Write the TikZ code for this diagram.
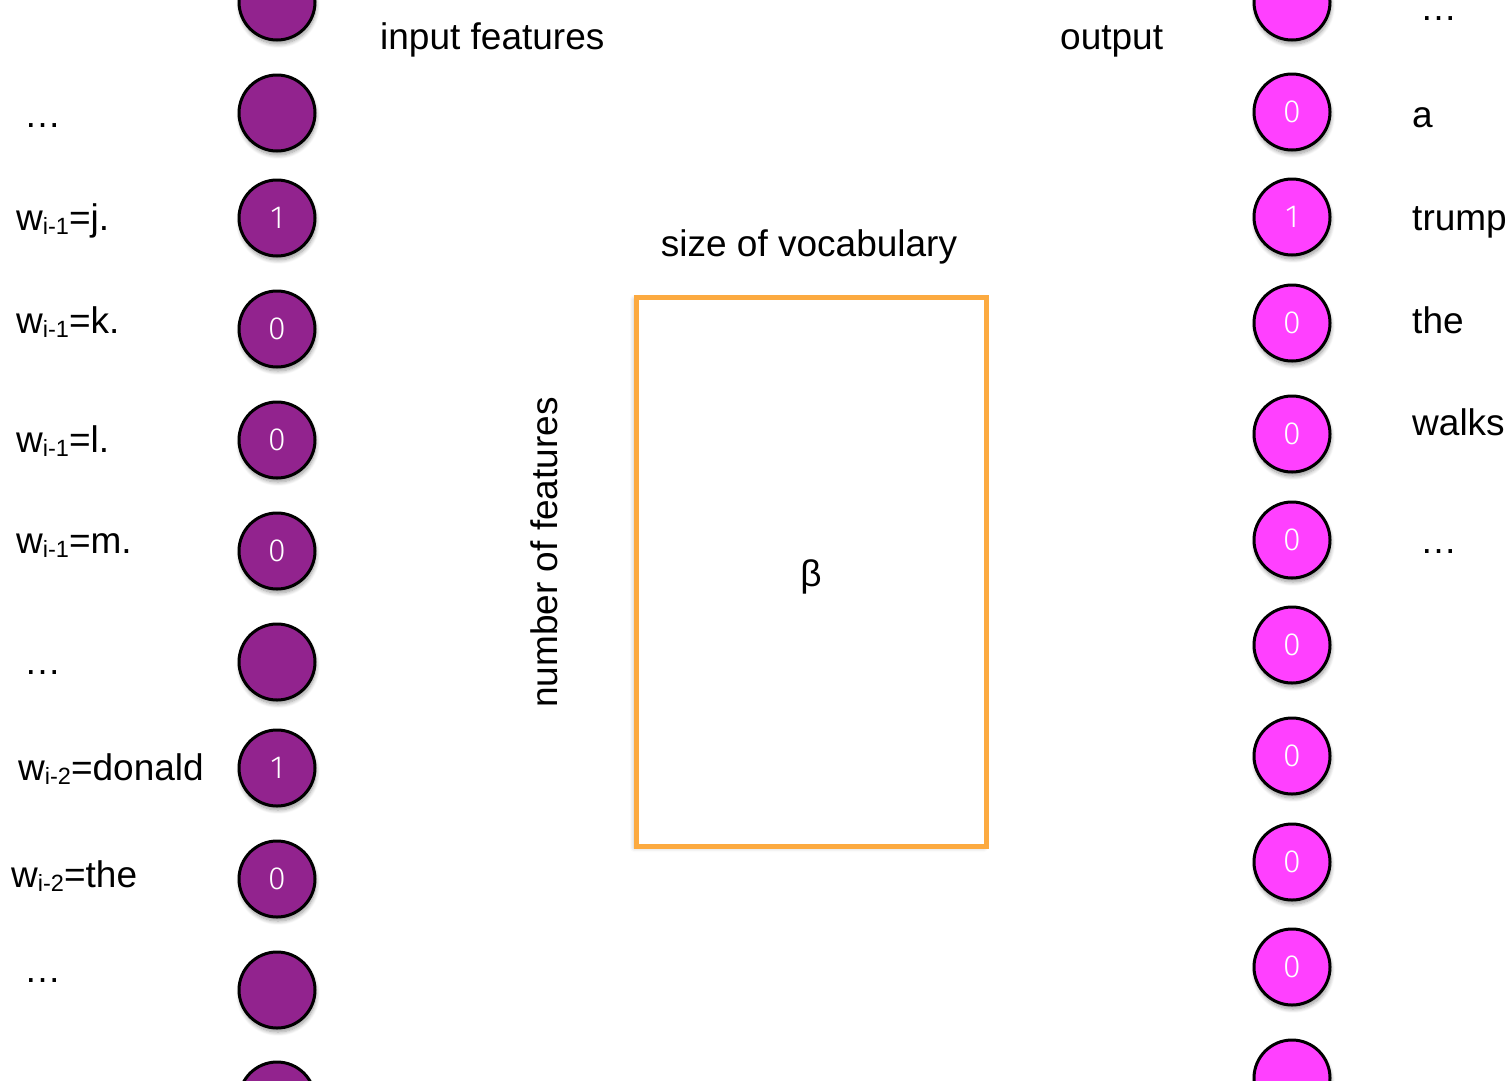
\documentclass[tikz,border=0pt]{standalone}
\usepackage{fontspec}
\setmainfont{Liberation Sans}
\newfontfamily\digitfont{Fira Sans Light}
\usetikzlibrary{shadows.blur}
\definecolor{inpurple}{RGB}{146,35,142}
\definecolor{outmagenta}{RGB}{255,64,255}
\definecolor{betaorange}{RGB}{252,170,64}
\newcommand{\wsub}[1]{w\raisebox{-4pt}{\fontsize{23.5}{24}\selectfont #1}}
\tikzset{
  unitshadow/.style={blur shadow={shadow xshift=1pt, shadow yshift=-4pt, shadow blur radius=4pt, shadow blur steps=8, shadow opacity=40}},
  bit/.style={circle, draw=black, line width=3pt, minimum size=76pt, inner sep=0pt,
    text=white, font=\digitfont\fontsize{32}{32}\selectfont, unitshadow},
  inbit/.style={bit, fill=inpurple},
  outbit/.style={bit, fill=outmagenta},
  lbl/.style={anchor=base west, inner sep=0pt, font=\fontsize{37}{40}\selectfont},
  weights/.style={draw=betaorange, line width=5pt, fill=white, minimum width=350pt, minimum height=549pt, inner sep=0pt,
    blur shadow={shadow xshift=-2pt, shadow yshift=-2pt, shadow blur radius=4pt, shadow opacity=25}}
}
\begin{document}
\begin{tikzpicture}[x=1pt,y=-1pt]
\useasboundingbox (0,0) rectangle (1512,1080);

% input layer
\node[inbit] (i0) at (277,2) {};
\node[inbit] (i1) at (277,113) {};
\node[inbit] (i2) at (277,218) {1};
\node[inbit] (i3) at (277,329) {0};
\node[inbit] (i4) at (277,440) {0};
\node[inbit] (i5) at (277,551) {0};
\node[inbit] (i6) at (277,662) {};
\node[inbit] (i7) at (277,768) {1};
\node[inbit] (i8) at (277,879) {0};
\node[inbit] (i9) at (277,990) {};
\node[inbit] (i10) at (277,1100) {};

% output layer
\node[outbit] (o0) at (1292,2) {};
\node[outbit] (o1) at (1292,112) {0};
\node[outbit] (o2) at (1292,217) {1};
\node[outbit] (o3) at (1292,323) {0};
\node[outbit] (o4) at (1292,434) {0};
\node[outbit] (o5) at (1292,540) {0};
\node[outbit] (o6) at (1292,645) {0};
\node[outbit] (o7) at (1292,756) {0};
\node[outbit] (o8) at (1292,862) {0};
\node[outbit] (o9) at (1292,967) {0};
\node[outbit] (o10) at (1292,1078) {};

% feature names
\node[lbl] (f1) at (24,127) {…};
\node[lbl] (f2) at (16,230) {\wsub{i-1}=j.};
\node[lbl] (f3) at (16,333) {\wsub{i-1}=k.};
\node[lbl] (f4) at (16,452) {\wsub{i-1}=l.};
\node[lbl] (f5) at (16,553) {\wsub{i-1}=m.};
\node[lbl] (f6) at (24,674) {…};
\node[lbl] (f7) at (18,780) {\wsub{i-2}=donald};
\node[lbl] (f8) at (11,887) {\wsub{i-2}=the};
\node[lbl] (f9) at (24,982) {…};

% vocabulary words
\node[lbl] (v0) at (1420,20) {…};
\node[lbl] (v1) at (1412,127) {a};
\node[lbl] (v2) at (1412,230) {trump};
\node[lbl] (v3) at (1412,333) {the};
\node[lbl] (v4) at (1412,435) {walks};
\node[lbl] (v5) at (1420,553) {…};

% headings
\node[lbl] (hin) at (380,49) {input features};
\node[lbl] (hout) at (1060,49) {output};

% weight matrix
\node[weights] (beta) at (811,571.5) {};
\node[inner sep=0pt, font=\fontsize{37}{40}\selectfont] (betasym) at ([yshift=-5pt]beta.center) {β};
\node[lbl, anchor=base] (cols) at (809,256) {size of vocabulary};
\node[lbl, anchor=base west, rotate=90] (rows) at (557,708) {number of features};
\end{tikzpicture}
\end{document}
